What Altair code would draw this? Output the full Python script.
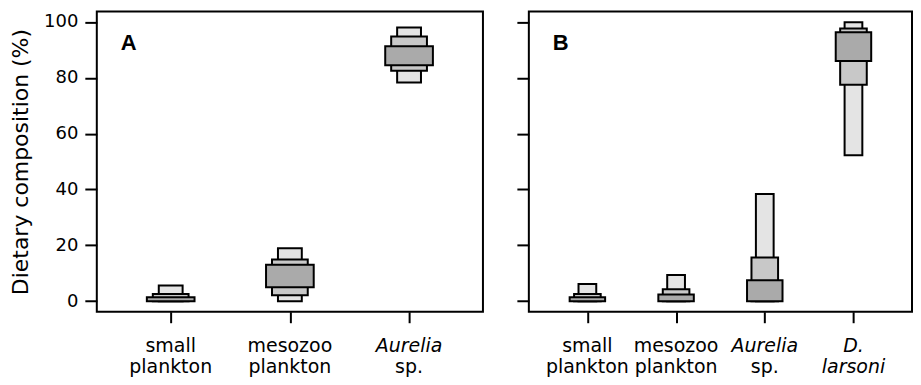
import altair as alt
import pandas as pd

# ---- data ----
cats_A_line1 = ["small", "mesozoo", "Aurelia"]
cats_A_line2 = ["plankton", "plankton", "sp."]
ital_A_line1 = [False, False, True]
ital_A_line2 = [False, False, False]

cats_B_line1 = ["small", "mesozoo", "Aurelia", "D."]
cats_B_line2 = ["plankton", "plankton", "sp.", "larsoni"]
ital_B_line1 = [False, False, True, True]
ital_B_line2 = [False, False, False, True]

# credible intervals (lo, hi) per source, panel A
A_95_lo = [0.0, 0.0, 78.3]
A_95_hi = [5.6, 19.0, 98.0]
A_75_lo = [0.0, 2.1, 82.5]
A_75_hi = [2.6, 14.9, 94.8]
A_50_lo = [0.0, 5.0, 84.5]
A_50_hi = [1.4, 13.1, 91.3]

# panel B
B_95_lo = [0.0, 0.0, 0.0, 52.3]
B_95_hi = [6.2, 9.4, 38.4, 99.9]
B_75_lo = [0.0, 0.0, 0.0, 77.5]
B_75_hi = [2.6, 4.3, 15.7, 97.6]
B_50_lo = [0.0, 0.0, 0.0, 86.0]
B_50_hi = [1.4, 2.4, 7.5, 96.3]

y_ticks = [0, 20, 40, 60, 80, 100]

# ---- styling ----
FILL = {"95": "#e4e4e4", "75": "#c8c8c8", "50": "#aaaaaa"}
HALF = {"95": 0.1, "75": 0.15, "50": 0.2}
FONT = "DejaVu Sans"
PW_A, PW_B, PH = 387, 384, 301
Y_DOMAIN = [-3.76, 103.76]


def box_df(los, his, level):
    n = len(los)
    return pd.DataFrame({
        "pos": list(range(1, n + 1)),
        "lo": los,
        "hi": his,
        "level": [level] * n,
    })


def label_df(l1, l2, i1, i2):
    n = len(l1)
    return pd.DataFrame({
        "pos": list(range(1, n + 1)) * 2,
        "text": l1 + l2,
        "line": [1] * n + [2] * n,
        "italic": i1 + i2,
    })


def panel(boxes, labels, xdom, letter, show_y, width):
    xscale = alt.Scale(domain=xdom, nice=False, zero=False)
    yscale = alt.Scale(domain=Y_DOMAIN, nice=False, zero=False)
    npos = len(labels) // 2
    xaxis = alt.Axis(values=list(range(1, npos + 1)), labels=False, title=None,
                     grid=False, domain=False, ticks=True, tickSize=11,
                     tickWidth=2, tickColor="black")
    if show_y:
        yaxis = alt.Axis(values=y_ticks, title="Dietary composition (%)",
                         grid=False, domain=False, tickSize=12, tickWidth=2,
                         tickColor="black", labelFont=FONT, labelFontSize=18,
                         labelColor="black", labelPadding=7,
                         titleFont=FONT, titleFontSize=22, titleFontWeight="normal",
                         titleColor="black", titlePadding=11)
    else:
        yaxis = alt.Axis(values=y_ticks, title=None, labels=False, grid=False,
                         domain=False, tickSize=12, tickWidth=2, tickColor="black")

    layers = []
    for df, lvl in boxes:
        hw = HALF[lvl]
        base = alt.Chart(df).transform_calculate(
            x1=f"datum.pos - {hw}", x2=f"datum.pos + {hw}"
        )
        enc = dict(
            x=alt.X("x1:Q", scale=xscale, axis=xaxis),
            x2="x2:Q",
            y=alt.Y("lo:Q", scale=yscale, axis=yaxis),
            y2="hi:Q",
        )
        layers.append(base.mark_rect(fill=FILL[lvl], stroke="black", strokeWidth=2).encode(**enc))

    lab = alt.Chart(labels)
    for line, ypix in [(1, PH + 40), (2, PH + 61)]:
        for ital in [False, True]:
            layers.append(
                lab.transform_filter(f"datum.line == {line} && datum.italic == {str(ital).lower()}")
                .mark_text(font=FONT, fontSize=19, fontStyle="italic" if ital else "normal",
                           color="black", align="center", baseline="alphabetic")
                .encode(x=alt.X("pos:Q", scale=xscale, axis=xaxis), y=alt.value(ypix), text="text:N")
            )

    layers.append(
        alt.Chart(pd.DataFrame({"t": [letter]}))
        .mark_text(font="Liberation Sans", fontSize=22, fontWeight="bold", color="black",
                   align="left", baseline="alphabetic")
        .encode(x=alt.value(24), y=alt.value(39), text="t:N")
    )
    return alt.layer(*layers).properties(width=width, height=PH)


boxes_A = [(box_df(A_95_lo, A_95_hi, "95"), "95"),
           (box_df(A_75_lo, A_75_hi, "75"), "75"),
           (box_df(A_50_lo, A_50_hi, "50"), "50")]
boxes_B = [(box_df(B_95_lo, B_95_hi, "95"), "95"),
           (box_df(B_75_lo, B_75_hi, "75"), "75"),
           (box_df(B_50_lo, B_50_hi, "50"), "50")]

pA = panel(boxes_A, label_df(cats_A_line1, cats_A_line2, ital_A_line1, ital_A_line2),
           [0.38, 3.62], "A", True, PW_A)
pB = panel(boxes_B, label_df(cats_B_line1, cats_B_line2, ital_B_line1, ital_B_line2),
           [0.34, 4.66], "B", False, PW_B)

chart = (
    alt.hconcat(pA, pB, spacing=31)
    .properties(padding={"left": 0, "top": 2, "right": 0, "bottom": 0},
                background="white")
    .configure_view(stroke="black", strokeWidth=2, fill="white")
)

chart.save("out.html", embed_options={"renderer": "svg", "actions": False})
